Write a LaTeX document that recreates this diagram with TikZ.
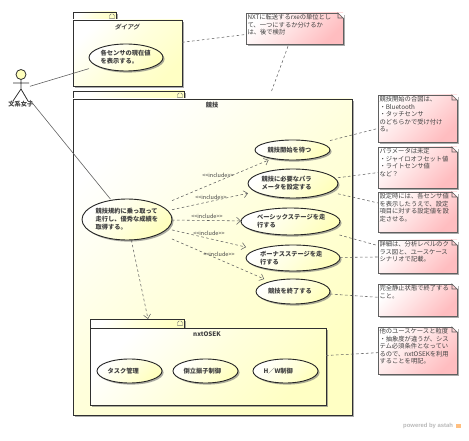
\documentclass[tikz,border=0pt]{standalone}
\usepackage{fontspec}
\setmainfont{Noto Sans CJK JP}
\newfontfamily\slantcjk[FakeSlant=0.2]{Noto Sans CJK JP Bold}
\newfontfamily\markfont{Liberation Sans}
\usetikzlibrary{shapes.geometric,shadows,arrows.meta}
\definecolor{pkgfill}{HTML}{FFFFC4}
\definecolor{pkgmid}{HTML}{FFFFDC}
\definecolor{ucfill}{HTML}{FFFFBC}
\definecolor{ucmid}{HTML}{FFFFE0}
\definecolor{notefill}{HTML}{FFBDC0}
\definecolor{notemid}{HTML}{FFDFE0}
\definecolor{inkc}{HTML}{303030}
\definecolor{linec}{HTML}{606060}
\definecolor{textc}{HTML}{404040}
\tikzset{
  softshadow/.style={drop shadow={shadow xshift=1.6pt,shadow yshift=-1.6pt,fill=black!55,opacity=.6}},
  pkgpart/.style={rectangle,inner sep=0pt,outer sep=0pt,draw=inkc,line width=.9pt,softshadow,
    left color=white,right color=pkgfill,middle color=pkgmid,shading angle=45},
  hitbox/.style={rectangle,inner sep=0pt,outer sep=0pt,draw=none},
  ucshape/.style={ellipse,inner sep=0pt,outer sep=0pt,draw=black!85,line width=.9pt,softshadow,
    left color=white,right color=ucfill,middle color=ucmid,shading angle=45,text=textc,align=left,
    font=\fontsize{6.25}{7.9}\selectfont\bfseries},
  notebody/.style={rectangle,inner sep=0pt,outer sep=0pt,draw=linec,line width=.7pt,softshadow,
    left color=white,right color=notefill,middle color=notemid,shading angle=45},
  notetext/.style={inner sep=0pt,outer sep=0pt,anchor=north west,align=left,text=textc,
    font=\fontsize{6.3}{7.6}\selectfont},
  titletext/.style={inner sep=0pt,text=textc,font=\fontsize{6.25}{7.5}\selectfont\bfseries},
  inctext/.style={inner sep=0pt,text=textc,font=\fontsize{5.5}{7}\selectfont},
  incline/.style={draw=linec,line width=.55pt,dash pattern=on 2.6pt off 2.4pt,
    -{Straight Barb[length=4pt,width=7pt,line width=.55pt]}},
  noteline/.style={draw=linec,line width=.55pt,dash pattern=on 2.6pt off 2.4pt},
  assocline/.style={draw=linec,line width=.6pt},
  iconline/.style={draw=black!55,line width=.45pt},
}
% #1 name, #2 x0, #3 y tab top, #4 tab right, #5 y body top, #6 x1, #7 y1
\newcommand{\pkgbx}[7]{%
  \node[pkgpart,minimum width={(#4-#2)*1pt},minimum height={(#5-#3)*1pt}] (#1tab) at ({(#2+#4)/2},{(#3+#5)/2}) {};
  \draw[iconline] ([shift={(-6.5,6.6)}]#1tab.north east) -- ++(0,-3) -- ++(1.4,-1.6) -- ++(2.2,0) -- ++(1.4,1.6) -- ++(0,3) -- cycle;
  \node[pkgpart,minimum width={(#6-#2)*1pt},minimum height={(#7-#5)*1pt}] (#1body) at ({(#2+#6)/2},{(#5+#7)/2}) {};
  \node[hitbox,minimum width={(#6-#2)*1pt},minimum height={(#7-#3)*1pt}] (#1) at ({(#2+#6)/2},{(#3+#7)/2}) {};
}
% #1 name, #2 cx, #3 cy, #4 w, #5 h, #6 text width, #7 text
\newcommand{\ucase}[7]{%
  \node[ucshape,minimum width={#4*1pt},minimum height={#5*1pt},text width={#6*1pt}] (#1e) at (#2,#3) {#7};
  \node[hitbox,minimum width={#4*1pt},minimum height={#5*1pt}] (#1) at (#2,#3) {};
}
% #1 name, #2 x0, #3 y0, #4 x1, #5 y1, #6 text
\newcommand{\notebx}[6]{%
  \node[notebody,minimum width={(#4-#2)*1pt},minimum height={(#5-#3)*1pt}] (#1) at ({(#2+#4)/2},{(#3+#5)/2}) {};
  \fill[white] ([shift={(-5.2,-.4)}]#1.north east) -- ([shift={(1,-.4)}]#1.north east) -- ([shift={(1,5.2)}]#1.north east) -- cycle;
  \draw[draw=linec,line width=.7pt] ([shift={(-5,0)}]#1.north east) -- ([shift={(0,5)}]#1.north east) -- ([shift={(-5,5)}]#1.north east) -- cycle;
  \node[notetext] (#1t) at ([shift={(1.5,1.2)}]#1.north west) {#6};
}
\begin{document}
\begin{tikzpicture}[x=1pt,y=-1pt]
\useasboundingbox (0,0) rectangle (469,441);
% packages
\pkgbx{pdia}{73}{12}{116}{20}{182}{86}
\node[titletext,font=\fontsize{6.25}{7.5}\slantcjk] (tdia) at (127,27) {ダイアグ};
\pkgbx{pcomp}{73}{91}{184}{99}{352}{415}
\node[titletext] (tcomp) at (212,105) {競技};
\pkgbx{pnxt}{90}{319}{184}{328}{326}{405}
\node[titletext] (tnxt) at (207,334) {nxtOSEK};
% use cases
\ucase{usens}{126}{57.5}{74}{27}{51}{各センサの現在値\\を表示する。}
\ucase{umain}{127}{219.5}{90}{41}{63}{競技規約に乗っ取って\\走行し、優秀な成績を\\取得する。}
\ucase{ustart}{292.5}{150}{75}{20}{50}{\centering 競技開始を待つ}
\ucase{uparam}{293}{183.5}{90}{29}{63}{競技に必要なパラ\\メータを設定する}
\ucase{ubasic}{290.5}{221.5}{99}{27}{67}{ベーシックステージを走\\行する}
\ucase{ubonus}{293}{258}{94}{26}{66}{ボーナスステージを走\\行する}
\ucase{uend}{293}{291.5}{74}{25}{50}{\centering 競技を終了する}
\ucase{utask}{129.5}{371}{65}{24}{44}{\centering タスク管理}
\ucase{upend}{205.5}{371}{65}{24}{44}{\centering 倒立振子制御}
\ucase{uhw}{285.5}{371}{65}{24}{44}{\centering H／W制御}
% notes
\notebx{nrxe}{246}{13}{343}{44}{NXTに転送するrxeの単位とし\\て、一つにするか分けるか\\は、後で検討}
\notebx{nsig}{378}{95}{457}{142}{競技開始の合図は、\\・Bluetooth\\・タッチセンサ\\のどちらかで受け付け\\る。}
\notebx{npar}{378}{147}{457}{188}{パラメータは未定\\・ジャイロオフセット値\\・ライトセンサ値\\など？}
\notebx{nset}{378}{192}{457}{232}{設定時には、各センサ値\\を表示したうえで、設定\\項目に対する設定値を設\\定させる。}
\notebx{ndet}{378}{240}{457}{273}{詳細は、分析レベルのク\\ラス図と、ユースケース\\シナリオで記載。}
\notebx{nfin}{378}{284}{457}{316}{完全静止状態で終了する\\こと。}
\notebx{nabs}{378}{327}{457}{374}{他のユースケースと粒度\\・抽象度が違うが、シス\\テム必須条件となってい\\るので、nxtOSEKを利用\\することを明記。}
% actor
\node[circle,inner sep=0pt,minimum size=10pt,draw=inkc,line width=.8pt,fill=ucfill] (ahead) at (21,74.5) {};
\coordinate (aneck) at (21,79.5);
\coordinate (ahip) at (21,89);
\coordinate (aarml) at (13,83);
\coordinate (aarmr) at (29,83);
\coordinate (alegl) at (13,101);
\coordinate (alegr) at (28,101);
\draw[draw=inkc,line width=.8pt] (aneck) -- (ahip) (aarml) -- (aarmr) (alegl) -- (ahip) -- (alegr);
\node[titletext] (alabel) at (21,104) {文系女子};
\node[hitbox,minimum width=18pt,minimum height=39pt] (actor) at (21,89) {};
% connectors
\draw[assocline] (actor) -- (usens);
\draw[assocline] (actor) -- (umain);
\draw[noteline] (pdia) -- (nrxe);
\draw[noteline] (pcomp) -- (nrxe);
\draw[noteline] (ustart) -- (nsig);
\draw[noteline] (uparam) -- (npar);
\draw[noteline] (uparam) -- (nset);
\draw[noteline] (ubasic) -- (ndet);
\draw[noteline] (ubonus) -- (ndet);
\draw[noteline] (uend) -- (nfin);
\draw[noteline] (pnxt) -- (nabs);
\draw[incline] (umain) -- (ustart);
\draw[incline] (umain) -- (uparam);
\draw[incline] (umain) -- (ubasic);
\draw[incline] (umain) -- (ubonus);
\draw[incline] (umain) -- (uend);
\coordinate (nxtin) at (148,319);
\draw[incline] (umain) -- (nxtin);
% include labels
\node[inctext] (l1) at (218,175) {<{}<include>{}>};
\node[inctext] (l2) at (211,197) {<{}<include>{}>};
\node[inctext] (l3) at (207,216) {<{}<include>{}>};
\node[inctext] (l4) at (209,233) {<{}<include>{}>};
\node[inctext] (l5) at (219,254) {<{}<include>{}>};
% footer
\node[inner sep=0pt,anchor=west,text=black!28,font=\fontsize{5.9}{7}\markfont\bfseries] (powered) at (403,426) {powered by astah};
\node[inner sep=0pt,minimum size=4.5pt,fill=orange!50] (astahicon) at (458.5,426) {};
\end{tikzpicture}
\end{document}
